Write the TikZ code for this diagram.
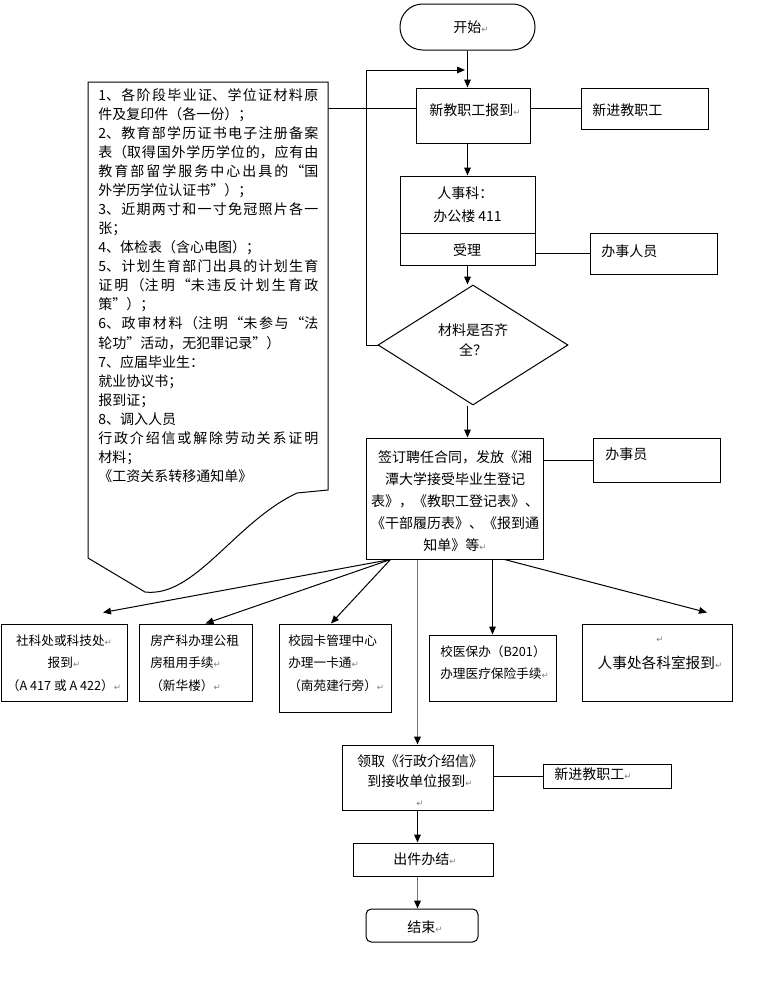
\documentclass[tikz,border=0pt]{standalone}
\usepackage{fontspec}
\setmainfont{Noto Sans CJK SC}
\newfontfamily\djv{DejaVu Sans}
\usetikzlibrary{fit,arrows.meta,shapes.geometric}
\XeTeXlinebreaklocale "zh"
\XeTeXlinebreakskip=0pt plus 3pt
\newcommand\rmk{{\djv\fontsize{6.5pt}{6.5pt}\selectfont\textcolor{gray}{↵}}}
\tikzset{
  box/.style={draw, line width=0.75pt, inner sep=0pt},
  txt/.style={inner sep=0pt, font=\fontsize{10.5pt}{15pt}\selectfont},
  stxt/.style={inner sep=0pt, font=\fontsize{9.5pt}{16.9pt}\selectfont},
  arr/.style={line width=0.75pt, -{Triangle[length=6pt,width=5pt]}},
  ln/.style={line width=0.75pt},
  garr/.style={line width=1.2pt, draw=black!55, -{Triangle[length=6pt,width=5pt,color=black]}},
}
\begin{document}
\begin{tikzpicture}[x=0.75pt,y=-0.75pt]
\useasboundingbox (0,0) rectangle (769,1000);
% document shape
\draw[ln] (88,82) -- (328,82) -- (328,490) -- (297,493)
  .. controls (235,522) and (195,598) .. (145,592) -- (88,558) -- cycle;
\node[fit={(88,82)(328,490)}, inner sep=0pt] (doc) {};
\node[txt, anchor=north west, text width=165pt, align=justify, font=\fontsize{10.5pt}{14.3pt}\selectfont] (doctext) at (98,88) {%
1、各阶段毕业证、学位证材料原\linebreak
件及复印件（各一份）；\newline
2、教育部学历证书电子注册备案\linebreak
表（取得国外学历学位的，应有由\linebreak
教育部留学服务中心出具的“国\linebreak
外学历学位认证书”）；\newline
3、近期两寸和一寸免冠照片各一\linebreak
张；\newline
4、体检表（含心电图）；\newline
5、计划生育部门出具的计划生育\linebreak
证明（注明“未违反计划生育政\linebreak
策”）；\newline
6、政审材料（注明“未参与“法\linebreak
轮功”活动，无犯罪记录”）\newline
7、应届毕业生：\newline
就业协议书；\newline
报到证；\newline
8、调入人员\newline
行政介绍信或解除劳动关系证明\linebreak
材料；\newline
《工资关系转移通知单》};

% boxes
\node[box, rounded corners=17pt, fit={(400,4)(535,50)}] (start) {};
\node[box, fit={(416,88)(530,143)}] (b1) {};
\node[box, fit={(581,88)(708,129)}] (nj) {};
\node[box, fit={(400,176)(535,265)}] (rs) {};
\node[box, fit={(590,233)(717,274)}] (bs) {};
\node[box, diamond, minimum width=142.5pt, minimum height=90pt] (dia) at (473,345) {};
\node[box, fit={(366,438)(543,559)}] (cbox) {};
\node[box, fit={(593,438)(720,482)}] (bsy) {};
\node[box, fit={(1,624)(127,701)}] (s1) {};
\node[box, fit={(139,624)(252,701)}] (s2) {};
\node[box, fit={(279,624)(391,712)}] (s3) {};
\node[box, fit={(429,635)(556,701)}] (s4) {};
\node[box, fit={(582,624)(732,701)}] (s5) {};
\node[box, fit={(342,745)(493,810)}] (lq) {};
\node[box, fit={(543,764)(671,788)}] (nj2) {};
\node[box, fit={(353,843)(493,876)}] (cj) {};
\node[box, rounded corners=4pt, fit={(366,909)(478,942)}] (endb) {};

% texts
\node[txt] (tstart) at (471,27) {开始\rmk};
\node[txt, anchor=west] (tb1) at (429,110) {新教职工报到\rmk};
\node[txt, anchor=west] (tnj) at (592,110) {新进教职工};
\node[txt, anchor=west] (trs1) at (437,193) {人事科：};
\node[txt, anchor=west] (trs2) at (433,216) {办公楼 411};
\node[txt] (tsl) at (467,250) {受理};
\node[txt, anchor=west] (tbs) at (601,251) {办事人员};
\node[txt, align=center] (tdia) at (473,340) {材料是否齐\\全？};
\node[txt, align=center, font=\fontsize{10.5pt}{16.5pt}\selectfont] (tc) at (455,501) {签订聘任合同，发放《湘\\潭大学接受毕业生登记\\表》，《教职工登记表》、\\《干部履历表》、《报到通\\知单》等\rmk};
\node[txt, anchor=west] (tbsy) at (605,454) {办事员};
\node[stxt, align=center] (ts1) at (64,663) {社科处或科技处\rmk\\报到\rmk\\（A 417 或 A 422）\rmk};
\node[stxt, align=left, anchor=west] (ts2) at (150,663) {房产科办理公租\\房租用手续\rmk\\（新华楼）\rmk};
\node[stxt, align=left, anchor=west] (ts3) at (288,663) {校园卡管理中心\\办理一卡通\rmk\\（南苑建行旁）\rmk};
\node[stxt, align=left, anchor=west, font=\fontsize{9.5pt}{16.5pt}\selectfont] (ts4) at (440,663) {校医保办（B201）\\办理医疗保险手续\rmk};
\node[inner sep=0pt] (ts5b) at (660,640) {\rmk};
\node[txt, font=\fontsize{11pt}{17pt}\selectfont] (ts5) at (660,663) {人事处各科室报到\rmk};
\node[txt, align=center] (tlq) at (420,781) {领取《行政介绍信》\\到接收单位报到\rmk\\\rmk};
\node[txt, anchor=west] (tnj2) at (554,774) {新进教职工\rmk};
\node[txt, anchor=west] (tcj) at (393,859) {出件办结\rmk};
\node[txt, anchor=west] (tend) at (407,927) {结束\rmk};

% connectors
\coordinate (lc) at (366,70);
\coordinate (loopend) at (465,70);
\draw[arr] (start.south) -- (start.south |- b1.north);
\draw[arr] (dia.west) -| (lc) -- (loopend);
\draw[ln] (doc.east |- nj.west) -- (b1.west |- nj.west);
\draw[ln] (b1.east |- nj.west) -- (nj.west);
\draw[arr] (start.south |- b1.south) -- (start.south |- rs.north);
\draw[ln] (rs.west |- 0,233) -- (rs.east |- 0,233);
\draw[ln] (rs.east |- bs.west) -- (bs.west);
\draw[arr] (start.south |- rs.south) -- (start.south |- dia.north);
\draw[arr] (start.south |- dia.south) -- (start.south |- cbox.north);
\draw[ln] (cbox.east |- bsy.west) -- (bsy.west);
\draw[arr] ([shift={(25,0)}]cbox.south west) -- ([shift={(39,-11)}]s1.north);
\draw[arr] ([shift={(25,0)}]cbox.south west) -- ([shift={(10,0)}]s2.north);
\draw[arr] ([shift={(25,0)}]cbox.south west) -- ([shift={(-4,0)}]s3.north);
\draw[arr] (s4.north |- cbox.south) -- (s4.north);
\draw[arr] ([shift={(139,0)}]cbox.south west) -- ([shift={(50,-11)}]s5.north);
\draw[garr] (lq.north |- cbox.south) -- (lq.north);
\draw[ln] (lq.east |- nj2.west) -- (nj2.west);
\draw[arr] (lq.south) -- (lq.south |- cj.north);
\draw[garr] (lq.south |- cj.south) -- (lq.south |- endb.north);
\end{tikzpicture}
\end{document}
